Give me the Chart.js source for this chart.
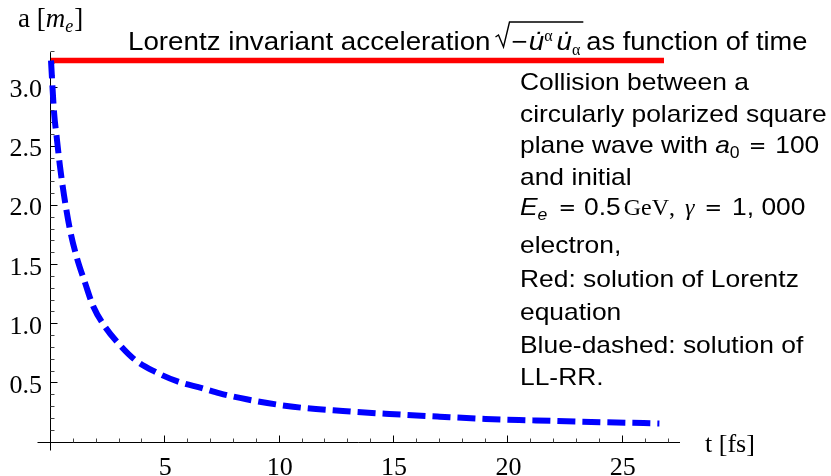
<!DOCTYPE html>
<html><head><meta charset="utf-8">
<script src="https://cdn.jsdelivr.net/npm/chart.js@4/dist/chart.umd.min.js"></script>
<style>html,body{margin:0;padding:0;background:#fff;overflow:hidden}#wrap{width:831px;height:476px;position:relative}</style>
</head><body><div id="wrap"><canvas id="c" width="831" height="476"></canvas></div>
<script>
// ---- data ----
const timeLorentz = [0, 26.8];
const accelLorentz = [3.23, 3.23];
const timeLLRR = [0, 0.13, 0.25, 0.39, 0.57, 0.83, 1.12, 1.49, 1.85, 2.36, 2.94, 3.67, 4.54, 5.56, 6.6, 7.38, 8.55, 10.58, 12.76, 14.8, 17.0, 19.0, 21.06, 23.1, 25.14, 26.6];
const accelLLRR = [3.23, 2.80, 2.58, 2.34, 2.09, 1.80, 1.57, 1.35, 1.15, 0.98, 0.84, 0.70, 0.60, 0.515, 0.46, 0.416, 0.366, 0.303, 0.267, 0.242, 0.219, 0.200, 0.188, 0.177, 0.168, 0.162];
const xMajorTicks = [5, 10, 15, 20, 25];
const xTickLabels = ['5', '10', '15', '20', '25'];
const yMajorTicks = [0.5, 1.0, 1.5, 2.0, 2.5, 3.0];
const yTickLabels = ['0.5', '1.0', '1.5', '2.0', '2.5', '3.0'];
const xRange = [0, 27.5];
const yRange = [0, 3.3];

const SANS = '"Liberation Sans", Arial, sans-serif';
const SERIF = '"Liberation Serif", "Times New Roman", serif';
const SX = 1.1;   // horizontal stretch for annotation text
const TSX = 1.11; // horizontal stretch for title

function runs(ctx, x, y, parts) {
  for (const p of parts) {
    if (p.gap !== undefined) { x += p.gap; continue; }
    const sx = p.sx || 1;
    ctx.font = p.f;
    ctx.save();
    ctx.translate(x, y + (p.dy || 0));
    ctx.scale(sx, 1);
    ctx.fillText(p.t, 0, 0);
    ctx.restore();
    x += ctx.measureText(p.t).width * sx;
  }
  return x;
}

const axesPlugin = {
  id: 'mmaAxes',
  beforeDatasetsDraw(chart) {
    const ctx = chart.ctx, xs = chart.scales.x, ys = chart.scales.y;
    const x0 = Math.round(xs.getPixelForValue(0)) - 0.5;
    const y0 = Math.round(ys.getPixelForValue(0)) - 0.5;
    const xEnd = xs.getPixelForValue(xRange[1]);
    const yTop = ys.getPixelForValue(yRange[1]);
    ctx.save();
    ctx.strokeStyle = '#000';
    ctx.lineWidth = 1;
    ctx.beginPath();
    ctx.moveTo(x0 - 13, y0); ctx.lineTo(xEnd, y0);
    ctx.moveTo(x0, y0 + 8); ctx.lineTo(x0, yTop);
    ctx.stroke();
    for (let i = 1; i <= 27; i++) {
      const major = i % 5 === 0;
      const px = Math.round(xs.getPixelForValue(i)) - 0.5;
      ctx.strokeStyle = major ? '#000' : '#444';
      ctx.beginPath(); ctx.moveTo(px, y0); ctx.lineTo(px, y0 - (major ? 7 : 4)); ctx.stroke();
    }
    for (let i = 1; i <= 33; i++) {
      const major = i % 5 === 0;
      const py = Math.round(ys.getPixelForValue(i / 10)) - 0.5;
      ctx.strokeStyle = major ? '#000' : '#444';
      ctx.beginPath(); ctx.moveTo(x0, py); ctx.lineTo(x0 + (major ? 7 : 4), py); ctx.stroke();
    }
    ctx.fillStyle = '#000';
    ctx.font = '26px ' + SERIF;
    ctx.textAlign = 'center'; ctx.textBaseline = 'alphabetic';
    xMajorTicks.forEach((v, i) => ctx.fillText(xTickLabels[i], xs.getPixelForValue(v), 474.5));
    ctx.textAlign = 'right';
    yMajorTicks.forEach((v, i) => ctx.fillText(yTickLabels[i], 42, ys.getPixelForValue(v) + 9.5));
    ctx.restore();
  },
  afterDraw(chart) {
    const ctx = chart.ctx;
    ctx.save();
    ctx.fillStyle = '#000';
    ctx.textAlign = 'left'; ctx.textBaseline = 'alphabetic';
    runs(ctx, 18, 27, [
      { t: 'a [', f: '27px ' + SERIF },
      { t: 'm', f: 'italic 27px ' + SERIF },
      { t: 'e', f: 'italic 18px ' + SERIF, dy: 5 },
      { gap: 1 },
      { t: ']', f: '27px ' + SERIF }
    ]);
    runs(ctx, 705, 452, [{ t: 't [fs]', f: '26px ' + SERIF }]);

    // title
    const T = '25px ' + SANS, TI = 'italic 25px ' + SANS;
    const ty = 50;
    let x = runs(ctx, 128, ty, [{ t: 'Lorentz invariant acceleration', f: T, sx: TSX }]);
    const rx = x + 4;
    x = runs(ctx, rx + 17, ty, [
      { t: '\u2212', f: T, sx: TSX },
      { gap: 1 },
      { t: 'u\u0307', f: TI, sx: TSX },
      { t: '\u03b1', f: '16px ' + SERIF, dy: -9 },
      { gap: 4 },
      { t: 'u\u0307', f: TI, sx: TSX },
      { t: '\u03b1', f: '16px ' + SERIF, dy: 5 }
    ]);
    const barEnd = x + 3;
    ctx.strokeStyle = '#000';
    ctx.lineWidth = 1.4;
    ctx.beginPath();
    ctx.moveTo(rx + 1, ty - 13); ctx.lineTo(rx + 4, ty - 15);
    ctx.lineTo(rx + 9, ty - 3); ctx.lineTo(rx + 15, ty - 28);
    ctx.lineTo(barEnd, ty - 28);
    ctx.stroke();
    runs(ctx, barEnd + 3, ty, [{ t: 'as function of time', f: T, sx: 1.09 }]);

    // annotation block
    const S = '24px ' + SANS, SI = 'italic 24px ' + SANS;
    const L = 520;
    const EQ = '21px "DejaVu Sans", ' + SANS;
    runs(ctx, L, 90, [{ t: 'Collision between a', f: S, sx: SX }]);
    runs(ctx, L, 121.7, [{ t: 'circularly polarized square', f: S, sx: SX }]);
    runs(ctx, L, 153.3, [
      { t: 'plane wave with ', f: S, sx: SX },
      { t: 'a', f: SI, sx: SX },
      { t: '0', f: '16px ' + SANS, dy: 5, sx: SX },
      { gap: 9 },
      { t: '=', f: EQ },
      { gap: 9 },
      { t: '100', f: S, sx: SX }
    ]);
    runs(ctx, L, 185, [{ t: 'and initial', f: S, sx: SX }]);
    runs(ctx, L, 215, [
      { t: 'E', f: SI, sx: SX },
      { t: 'e', f: 'italic 16px ' + SANS, dy: 5, sx: SX },
      { gap: 11 },
      { t: '=', f: EQ },
      { gap: 8 },
      { t: '0.5', f: S, sx: SX },
      { gap: 3 },
      { t: 'GeV', f: '24px ' + SERIF },
      { t: ',', f: '24px ' + SERIF },
      { gap: 10 },
      { t: '\u03b3', f: 'italic 24px ' + SERIF },
      { gap: 10 },
      { t: '=', f: EQ },
      { gap: 10 },
      { t: '1, 000', f: S, sx: SX }
    ]);
    runs(ctx, L, 253.3, [{ t: 'electron,', f: S, sx: SX }]);
    runs(ctx, L, 286.7, [{ t: 'Red: solution of Lorentz', f: S, sx: SX }]);
    runs(ctx, L, 320, [{ t: 'equation', f: S, sx: SX }]);
    runs(ctx, L, 353.3, [{ t: 'Blue-dashed: solution of', f: S, sx: SX }]);
    runs(ctx, L, 385, [{ t: 'LL-RR.', f: S, sx: SX }]);
    ctx.restore();
  }
};

const toXY = (xs, ys) => xs.map((v, i) => ({ x: v, y: ys[i] }));

new Chart(document.getElementById('c'), {
  type: 'line',
  data: {
    datasets: [
      {
        label: 'LL-RR',
        data: toXY(timeLLRR, accelLLRR),
        borderColor: '#0000ff',
        borderWidth: 6,
        borderDash: [18, 7],
        borderCapStyle: 'butt',
        pointRadius: 0,
        cubicInterpolationMode: 'monotone',
        fill: false,
        clip: 20,
        order: 0
      },
      {
        label: 'Lorentz',
        data: toXY(timeLorentz, accelLorentz),
        borderColor: '#ff0000',
        borderWidth: 5.5,
        pointRadius: 0,
        fill: false,
        clip: 20,
        order: 1
      }
    ]
  },
  options: {
    responsive: false,
    animation: false,
    devicePixelRatio: 1,
    layout: { padding: { left: 51, right: 151, top: 52.2, bottom: 33.4 } },
    plugins: { legend: { display: false }, tooltip: { enabled: false }, title: { display: false } },
    scales: {
      x: { type: 'linear', min: xRange[0], max: xRange[1], display: false },
      y: { type: 'linear', min: yRange[0], max: yRange[1], display: false }
    }
  },
  plugins: [axesPlugin]
});
</script></body></html>
